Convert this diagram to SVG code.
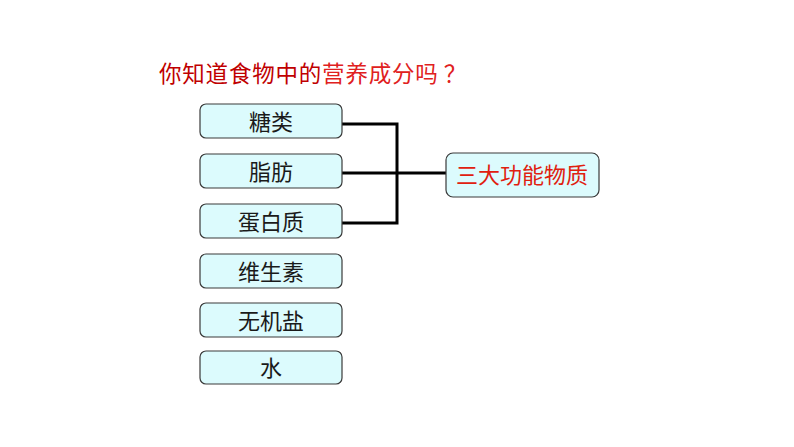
<svg xmlns="http://www.w3.org/2000/svg" width="794" height="447" viewBox="0 0 794 447">
<style>
.box{fill:#dcfbfd;stroke:#3a3a3a;stroke-width:1.2}
.t{font-family:"Noto Sans CJK SC","Noto Sans",sans-serif;font-size:22px;fill:#1a1a1a;text-anchor:middle}
.r{fill:#e0200f;font-size:22px}
.conn{stroke:#000;stroke-width:3;fill:none}
</style>
<rect width="794" height="447" fill="#fff"/>
<text x="159" y="82" font-family="'Noto Sans CJK SC','Noto Sans',sans-serif" font-size="22.5" letter-spacing="0.8"><tspan fill="#c00000">你知道食物中的</tspan><tspan fill="#e02020">营养成分吗</tspan><tspan fill="#e02020" dx="5">？</tspan></text>
<g id="connectors">
<path class="conn" d="M342 124H397V223H342M342 173H446"/>
</g>
<g id="n1"><rect class="box" x="200" y="104" width="142" height="34" rx="6"/><text class="t" x="271" y="130">糖类</text></g>
<g id="n2"><rect class="box" x="200" y="154" width="142" height="34" rx="6"/><text class="t" x="271" y="180">脂肪</text></g>
<g id="n3"><rect class="box" x="200" y="204" width="142" height="34" rx="6"/><text class="t" x="271" y="230">蛋白质</text></g>
<g id="n4"><rect class="box" x="200" y="254" width="142" height="34" rx="6"/><text class="t" x="271" y="280">维生素</text></g>
<g id="n5"><rect class="box" x="200" y="303" width="142" height="34" rx="6"/><text class="t" x="271" y="329">无机盐</text></g>
<g id="n6"><rect class="box" x="200" y="351" width="142" height="33" rx="6"/><text class="t" x="271" y="376">水</text></g>
<g id="n7"><rect class="box" x="446" y="153" width="153" height="44" rx="7"/><text class="t r" x="522" y="183">三大功能物质</text></g>
</svg>
